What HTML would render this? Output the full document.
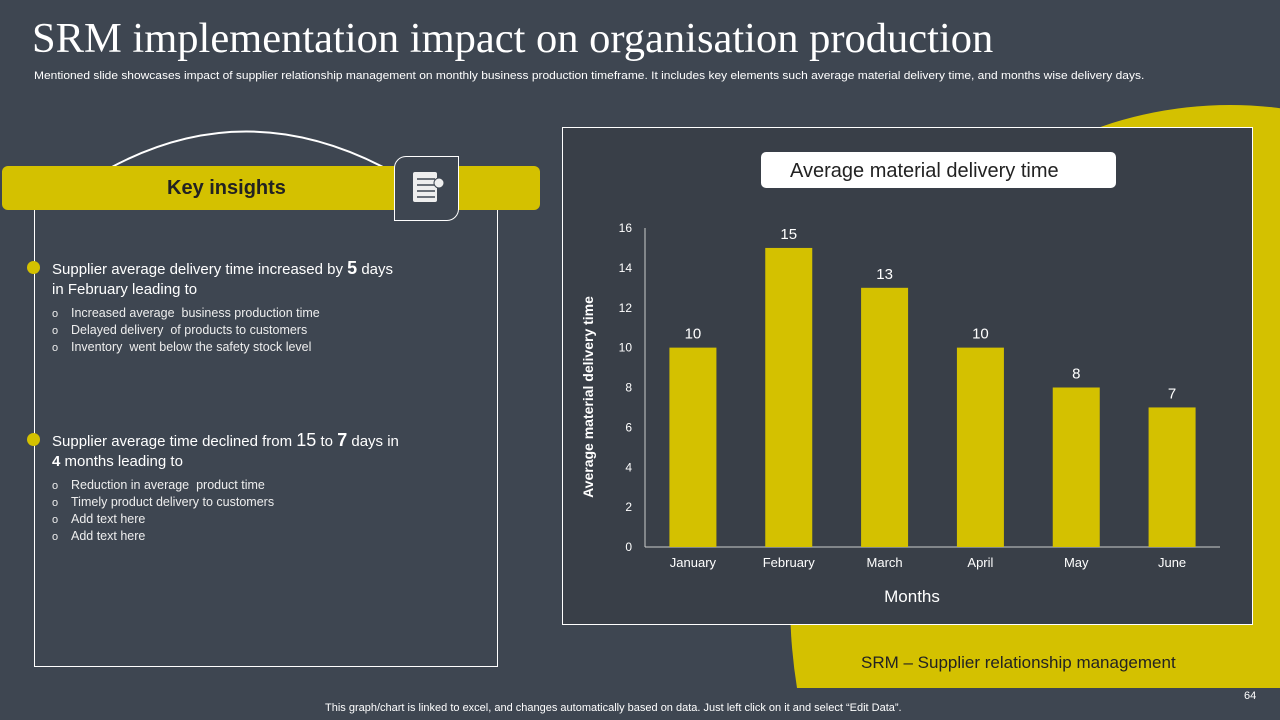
<!DOCTYPE html>
<html><head><meta charset="utf-8"><style>
*{margin:0;padding:0;box-sizing:border-box}
html,body{width:1280px;height:720px;overflow:hidden}
body{background:#3e4651;font-family:"Liberation Sans",sans-serif;position:relative;color:#fff}
.abs{position:absolute}
.sub li{list-style:none;font-size:12.5px;line-height:16px;color:#eee}
.sub li:before{content:"o";display:inline-block;width:19px;font-size:11px}
</style></head><body>
<div class="abs" style="left:32px;top:14px;font-family:'Liberation Serif',serif;font-size:42.5px;color:#fff;white-space:nowrap">SRM implementation impact on organisation production</div>
<div class="abs" style="left:34px;top:70px;font-size:11px;color:#fff;white-space:nowrap;transform:scaleX(1.09);transform-origin:left">Mentioned slide showcases impact of supplier relationship management on monthly business production timeframe. It includes key elements such average material delivery time, and months wise delivery days.</div>

<svg class="abs" style="left:0;top:0" width="1280" height="720">
<defs><clipPath id="c"><rect x="0" y="0" width="1280" height="688"/></clipPath></defs>
<ellipse cx="1230" cy="600" rx="440" ry="495" fill="#d4c100" clip-path="url(#c)"/>
<path d="M110 168 Q245 95 385 168" fill="none" stroke="#fff" stroke-width="2"/>
</svg>

<div class="abs" style="left:34px;top:200px;width:464px;height:467px;border:1px solid #fff;border-top:none"></div>
<div class="abs" style="left:2px;top:166px;width:538px;height:44px;background:#d4c100;border-radius:6px;color:#222;font-weight:bold;font-size:20px;line-height:44px;padding-left:165px">Key insights</div>
<div class="abs" style="left:394px;top:156px;width:65px;height:65px;background:#3e4651;border:1px solid #fff;border-radius:12px 0 12px 0">
<svg width="65" height="65"><rect x="18" y="15" width="24" height="30" rx="2" fill="#eee"/><g stroke="#3e4651" stroke-width="1.5"><line x1="22" y1="22" x2="40" y2="22"/><line x1="22" y1="28" x2="40" y2="28"/><line x1="22" y1="34" x2="40" y2="34"/><line x1="22" y1="40" x2="40" y2="40"/></g><circle cx="44" cy="26" r="5" fill="#eee" stroke="#3e4651"/></svg></div>

<div class="abs" style="left:27px;top:261px;width:13px;height:13px;border-radius:50%;background:#d4c100"></div>
<div class="abs" style="left:52px;top:258px;width:420px;font-size:15px;line-height:20px">Supplier average delivery time increased by <b style="font-size:18px">5</b> days<br>in February leading to
<ul class="sub" style="margin-top:5px"><li>Increased average &nbsp;business production time</li><li>Delayed delivery &nbsp;of products to customers</li><li>Inventory &nbsp;went below the safety stock level</li></ul></div>
<div class="abs" style="left:27px;top:433px;width:13px;height:13px;border-radius:50%;background:#d4c100"></div>
<div class="abs" style="left:52px;top:430px;width:420px;font-size:15px;line-height:20px">Supplier average time declined from <b style="font-size:18px;font-weight:normal">15</b> to <b style="font-size:18px">7</b> days in<br><b>4</b> months leading to
<ul class="sub" style="margin-top:5px"><li>Reduction in average &nbsp;product time</li><li>Timely product delivery to customers</li><li>Add text here</li><li>Add text here</li></ul></div>

<div class="abs" style="left:562px;top:127px;width:691px;height:498px;background:#393f48;border:1px solid #fff"></div>
<div class="abs" style="left:761px;top:152px;width:355px;height:36px;background:#fff;border-radius:5px;color:#222;font-size:20px;line-height:38px;padding-left:29px">Average material delivery time</div>
<svg id="ch" class="abs" style="left:0;top:0" width="1280" height="720"></svg>

<div class="abs" style="left:861px;top:653px;font-size:17px;color:#222">SRM – Supplier relationship management</div>
<div class="abs" style="left:1244px;top:690px;font-size:11px;line-height:13px">64</div>
<div class="abs" style="left:325px;top:702px;font-size:11px;line-height:13px;white-space:nowrap">This graph/chart is linked to excel, and changes automatically based on data. Just left click on it and select “Edit Data”.</div>
<script>
const categories=["January","February","March","April","May","June"];
const values=[10,15,13,10,8,7];
const ticks=[0,2,4,6,8,10,12,14,16];
const svg=document.getElementById('ch');const NS="http://www.w3.org/2000/svg";
const x0=645,x1=1220,yb=547,yt=228,ymax=16;
const y=v=>yb-(v/ymax)*(yb-yt);
const step=(x1-x0)/categories.length;
const xc=i=>x0+step*(i+0.5);
function mk(t,a,txt){const e=document.createElementNS(NS,t);for(const k in a)e.setAttribute(k,a[k]);if(txt!==undefined)e.textContent=txt;svg.appendChild(e);return e;}
let e=mk('line',{x1:x0,y1:yt,x2:x0,y2:yb,stroke:'#ccc'});


e=mk('line',{x1:x0,y1:yb,x2:x1,y2:yb,stroke:'#ccc'});


ticks.forEach(t=>{const l=mk('text',{x:632,y:y(t)+4,'text-anchor':'end','font-size':12,fill:'#fff'},t);

});
values.forEach((v,i)=>{const w=47;
const r=mk('rect',{x:xc(i)-w/2,y:y(v),width:w,height:yb-y(v),fill:'#d4c100'});


const t=mk('text',{x:xc(i),y:y(v)-9,'text-anchor':'middle','font-size':15,fill:'#fff'},v);


const c=mk('text',{x:xc(i),y:567,'text-anchor':'middle','font-size':13,fill:'#fff'},categories[i]);

});
e=mk('text',{x:912,y:602,'text-anchor':'middle','font-size':17,fill:'#fff'},'Months');


e=mk('text',{x:0,y:0,'text-anchor':'middle','font-size':14,'font-weight':'bold',fill:'#fff',transform:'translate(593,397) rotate(-90)'},'Average material delivery time');


</script>
</body></html>
